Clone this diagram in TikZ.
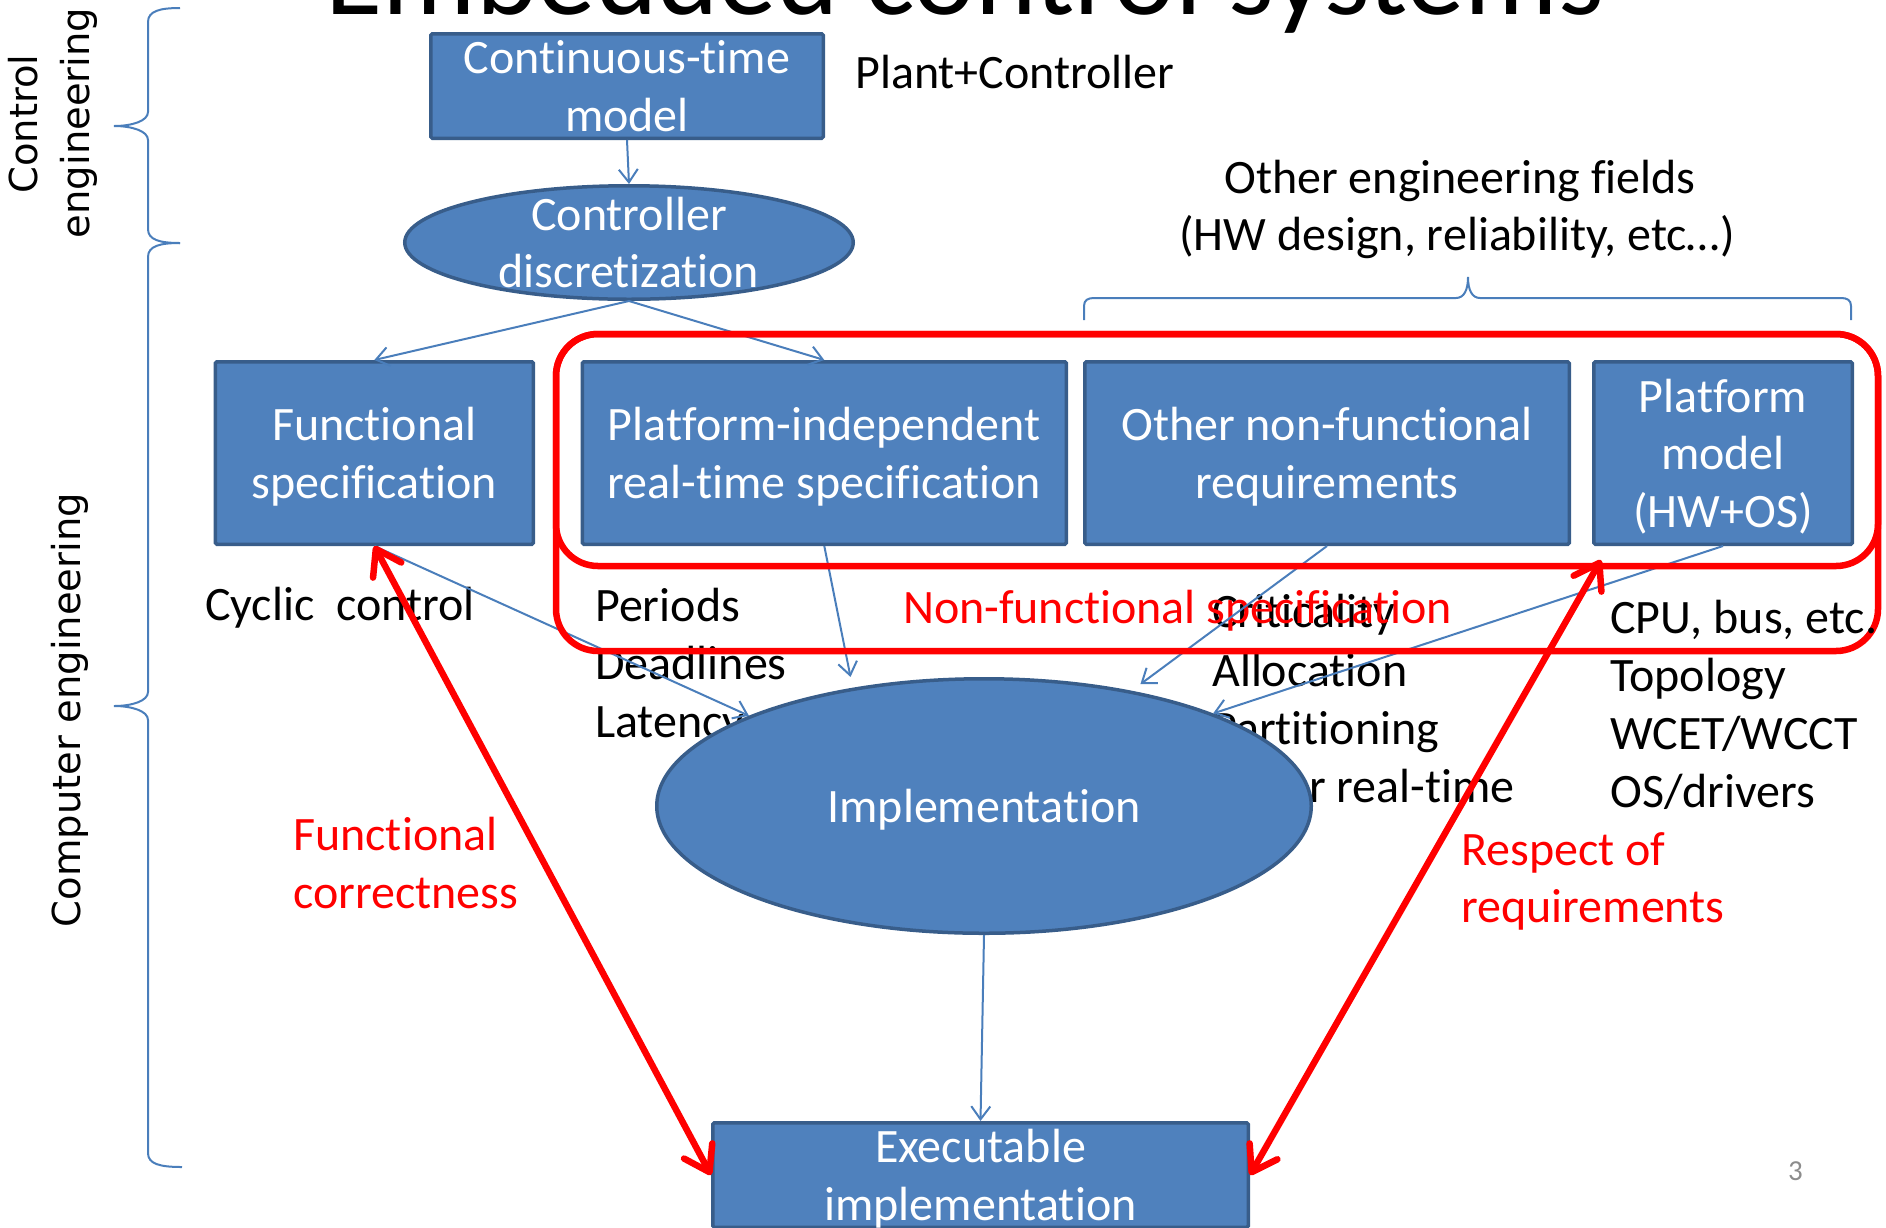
\documentclass[tikz,border=0pt]{standalone}
\usepackage{fontspec}
\setmainfont{Carlito}[Ligatures=NoCommon]
\newfontfamily\sidefont{DejaVu Sans}
\usetikzlibrary{arrows.meta,shapes.geometric}
\definecolor{boxfill}{HTML}{4F81BD}
\definecolor{boxline}{HTML}{385D8A}
\definecolor{linkblue}{HTML}{4A7EBB}
\definecolor{pagegray}{HTML}{8C8C8C}
\newcommand\txtfont{\fontsize{48}{57.5}\selectfont}
\newcommand\sidetxt{\sidefont\fontsize{38.5}{46}\selectfont}

\begin{document}
\begin{tikzpicture}[x=1pt,y=-1pt,
  blockbox/.style={rectangle, draw=boxline, line width=3.5pt, fill=boxfill,
    text=white, font=\txtfont, align=center, inner sep=0pt, text depth=0pt,
    rounded corners=1.5pt},
  blockoval/.style={ellipse, draw=boxline, line width=3.5pt, fill=boxfill,
    text=white, font=\txtfont, align=center, inner sep=0pt, text depth=0pt},
  ovaltext/.style={text=white, font=\txtfont, align=center, inner sep=0pt},
  lbl/.style={anchor=base west, font=\txtfont, inner sep=0pt},
  clbl/.style={anchor=base, font=\txtfont, inner sep=0pt},
  redlbl/.style={lbl, text=red},
  sidelbl/.style={anchor=base, rotate=90, font=\sidetxt, inner sep=0pt},
  flow/.style={draw=linkblue, line width=2pt,
    -{Straight Barb[length=13pt,width=19pt]}},
  checkarrow/.style={draw=red, line width=6.5pt,
    {Straight Barb[round,length=24pt,width=32pt]}-{Straight Barb[round,length=24pt,width=32pt]}},
  redframe/.style={draw=red, line width=6.5pt, rounded corners=42pt},
  bracket/.style={draw=linkblue, line width=2pt}
]
\useasboundingbox (0,0) rectangle (1886,1227);
\clip (0,0) rectangle (1886,1227);

% slide title
\node[anchor=base, font=\fontsize{117}{140}\selectfont, inner sep=0pt] (title)
  at (965,14) {Embedded control systems};

% left braces and their rotated captions
\draw[bracket] (180,8) .. controls (160,8) and (148,11) .. (148,22) -- (148,112)
  .. controls (148,121) and (132,126) .. (114,126)
  .. controls (132,126) and (148,131) .. (148,140) -- (148,229)
  .. controls (148,240) and (160,243) .. (180,243);
\draw[bracket] (180,243) .. controls (160,243) and (148,246) .. (148,257) -- (148,692)
  .. controls (148,701) and (132,706) .. (114,706)
  .. controls (132,706) and (148,711) .. (148,720) -- (148,1153)
  .. controls (148,1164) and (160,1167) .. (182,1167);
\node[sidelbl] (ctrlcap1) at (37,124) {Control};
\node[sidelbl] (ctrlcap2) at (89,123) {engineering};
\node[sidelbl] (compcap) at (80,710) {Computer engineering};

% top of the flow
\node[blockbox, minimum width=392.5pt, minimum height=104.5pt] (cont) at (627,86)
  {Continuous-time\\model};
\node[lbl] (plant) at (855,88) {Plant+Controller};
\node[blockoval, minimum width=448.5pt, minimum height=113.5pt,
  label={[ovaltext]center:{Controller\\discretization}}] (ctrl) at (629,242.5) {};

% other engineering fields
\node[clbl] (oef1) at (1460,193) {Other engineering fields};
\node[clbl] (oef2) at (1457,250) {(HW design, reliability, etc…)};
\draw[bracket] (1084,320) -- (1084,306) .. controls (1084,300) and (1088,298) .. (1094,298)
  -- (1456,298) .. controls (1464,298) and (1468,290) .. (1468,277)
  .. controls (1468,290) and (1472,298) .. (1480,298) -- (1841,298)
  .. controls (1847,298) and (1851,300) .. (1851,306) -- (1851,320);

% specification row
\node[blockbox, minimum width=318pt, minimum height=182.5pt] (func) at (374.3,453)
  {Functional\\specification};
\node[blockbox, minimum width=484pt, minimum height=182.5pt] (pind) at (824.3,453)
  {Platform-independent\\real-time specification};
\node[blockbox, minimum width=484.5pt, minimum height=182.5pt] (other) at (1327,453)
  {Other non-functional\\requirements};
\node[blockbox, minimum width=258.5pt, minimum height=182.5pt] (plat) at (1723,453)
  {Platform\\model\\(HW+OS)};

% notes under the row
\node[lbl] (cyclic) at (205,620) {Cyclic~~control};
\node[lbl] (per) at (595,621) {Periods};
\node[lbl] (dead) at (595,679) {Deadlines};
\node[lbl] (lat) at (595,737) {Latency};
\node[lbl] (crit) at (1212,627) {Criticality};
\node[lbl] (alloc) at (1212,686) {Allocation};
\node[lbl] (part) at (1212,744) {Partitioning};
\node[lbl] (ortl) at (1212,802) {Other real-time};
\node[redlbl] (nfs) at (903,623) {Non-functional specification};
\node[lbl] (topo) at (1610,691) {Topology};
\node[lbl] (wcet) at (1610,749) {WCET/WCCT};
\node[lbl] (osdrv) at (1610,807) {OS/drivers};
\node[redlbl] (fc1) at (293,850) {Functional};
\node[redlbl] (fc2) at (293,908) {correctness};
\node[redlbl] (rr1) at (1461,865) {Respect of};
\node[redlbl] (rr2) at (1461,922) {requirements};

% implementation steps
\node[blockoval, minimum width=654.5pt, minimum height=254.5pt] (impl) at (984,806)
  {Implementation};
\node[blockbox, minimum width=535.5pt, minimum height=104.5pt] (exe) at (980.5,1175)
  {Executable\\implementation};

% blue flow connectors
\draw[flow] (cont.south) -- (ctrl.north);
\draw[flow] (ctrl.south) -- (func.north);
\draw[flow] (ctrl.south) -- (pind.north);
\draw[flow] (func.south) -- (impl.159);
\draw[flow, shorten >=11pt] (pind.south) -- (impl.138);
\draw[flow, shorten >=11pt] (other.south) -- (impl.38);
\draw[flow] (plat.south) -- (impl.22);
\draw[flow] (impl.south) -- (exe.north);

% non-functional frames
\draw[redframe] (556,334) rectangle (1878,566);
\draw[redframe] (556,334) rectangle (1878,651);

% platform note drawn over the frame edge
\node[lbl] (cpu) at (1610,633) {CPU, bus, etc.};

% verification arrows
\coordinate (platfoot) at ([shift={(9,14)}]plat.south west);
\draw[checkarrow] (func.south) -- (exe.west);
\draw[checkarrow] (platfoot) -- (exe.east);

% page number
\node[anchor=base west, font=\fontsize{29}{35}\selectfont, text=pagegray, inner sep=0pt]
  (pagenum) at (1788,1180) {3};
\end{tikzpicture}
\end{document}
